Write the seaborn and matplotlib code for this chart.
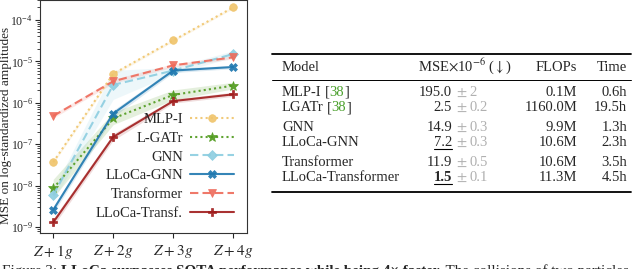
import numpy as np
import pandas as pd
import seaborn as sns
import matplotlib.pyplot as plt

# chart data (MSE per multiplicity)
processes = ["$Z+1g$", "$Z+2g$", "$Z+3g$", "$Z+4g$"]
models = ["MLP-I", "L-GATr", "GNN", "LLoCa-GNN", "Transformer", "LLoCa-Transf."]
mse_mlp = [3.7e-8, 5.0e-6, 3.2e-5, 2.0e-4]
mse_lgatr = [8.6e-9, 4.2e-7, 1.55e-6, 2.6e-6]
mse_gnn = [5.9e-9, 2.7e-6, 6.0e-6, 1.5e-5]
mse_llgnn = [2.6e-9, 5.5e-7, 6.0e-6, 7.3e-6]
mse_trf = [4.8e-7, 3.3e-6, 8.0e-6, 1.25e-5]
mse_lltrf = [1.3e-9, 1.5e-7, 1.1e-6, 1.6e-6]
# half width of the shaded band, in decades
band_mlp = [0.04, 0.04, 0.03, 0.03]
band_lgatr = [0.22, 0.15, 0.12, 0.08]
band_gnn = [0.12, 0.35, 0.08, 0.08]
band_llgnn = [0.08, 0.08, 0.05, 0.04]
band_trf = [0.05, 0.05, 0.04, 0.04]
band_lltrf = [0.09, 0.08, 0.05, 0.05]

# table data
tab_models = ["MLP-I", "LGATr", "GNN", "LLoCa-GNN", "Transformer", "LLoCa-Transformer"]
tab_cite = [True, True, False, False, False, False]
tab_mse = ["195.0", "2.5", "14.9", "7.2", "11.9", "1.5"]
tab_err = ["2", "0.2", "0.3", "0.3", "0.5", "0.1"]
tab_flops = ["0.1M", "1160.0M", "9.9M", "10.6M", "10.6M", "11.3M"]
tab_time = ["0.6h", "19.5h", "1.3h", "2.3h", "3.5h", "4.5h"]

COLORS = ["#f0c46a", "#4f9a1c", "#8ccde0", "#1f78b0", "#ee6a5a", "#a01c1c"]
STYLES = [(0, (1, 1.5)), (0, (1, 1.5)), (0, (4, 2)), "-", (0, (4, 2)), "-"]
MARKERS = ["o", "*", "D", "X", "v", "P"]

sns.set_style("ticks")
plt.rcParams["font.family"] = ["Liberation Serif", "DejaVu Serif"]
plt.rcParams["mathtext.fontset"] = "stix"
plt.rcParams["xtick.direction"] = "out"
plt.rcParams["ytick.direction"] = "out"

fig = plt.figure(figsize=(6.4, 2.69), dpi=100)
ax = fig.add_axes([0.0625, 0.134, 0.3235, 0.866])

series = [mse_mlp, mse_lgatr, mse_gnn, mse_llgnn, mse_trf, mse_lltrf]
bands = [band_mlp, band_lgatr, band_gnn, band_llgnn, band_trf, band_lltrf]
x = np.arange(len(processes))
for i, (name, vals, w) in enumerate(zip(models, series, bands)):
    df = pd.DataFrame({"x": x, "mse": vals})
    lo = np.array(vals) / 10 ** np.array(w)
    hi = np.array(vals) * 10 ** np.array(w)
    ax.fill_between(x, lo, hi, color=COLORS[i], alpha=0.15, linewidth=0)
    sns.lineplot(data=df, x="x", y="mse", ax=ax, color=COLORS[i], linestyle=STYLES[i],
                 marker=MARKERS[i], markersize=5.5 if MARKERS[i] != "*" else 7,
                 markeredgewidth=0.5, markeredgecolor=COLORS[i], alpha=0.9,
                 linewidth=1.5, label=name)

ax.set_yscale("log")
ax.set_ylim(10 ** -9.14, 10 ** -3.52)
ax.set_xlim(-0.22, 3.23)
ax.set_xticks(x)
ax.set_xticklabels(processes, fontsize=11)
ax.tick_params(axis="y", which="major", labelsize=8.5, pad=1.5, length=3.5)
ax.tick_params(axis="y", which="minor", length=2)
ax.set_xlabel("")
ax.set_ylabel("MSE on log-standardized amplitudes", fontsize=9.5)
ax.yaxis.set_label_coords(-0.135, 0.46)
for s in ax.spines.values():
    s.set_color("#333333")
ax.legend(loc="lower right", frameon=False, markerfirst=False, fontsize=10.5,
          handlelength=3.0, labelspacing=0.38, borderaxespad=0.5, handletextpad=0.5)

# table on the right
fig.canvas.draw()
renderer = fig.canvas.get_renderer()
FS = 10.5


def px(xp, yp):
    return xp / 640, 1 - yp / 269


def put(xp, yp, s, ha="left", **kw):
    t = fig.text(*px(xp, yp), s, ha=ha, va="baseline", fontsize=kw.pop("fontsize", FS), **kw)
    return t, t.get_window_extent(renderer)


def rule(yp, lw):
    fig.add_artist(plt.Line2D([272 / 640, 631 / 640], [1 - yp / 269] * 2, color="black", lw=lw))


rule(54, 1.3)
rule(80, 0.7)
rule(192, 1.3)
put(282, 71, "Model")
put(418, 71, r"MSE$\times$10$^{-6}$ ($\downarrow$)")
put(577, 71, "FLOPs", ha="right")
put(627, 71, "Time", ha="right")

row_y = [96, 111, 131, 146, 166, 181]
for i in range(len(tab_models)):
    y = row_y[i]
    t, bb = put(282, y, tab_models[i])
    if tab_cite[i]:
        t2, bb2 = put(bb.x1 + 3, y, "[")
        t3, bb3 = put(bb2.x1, y, "38", color="#4aa02c")
        put(bb3.x1, y, "]")
    bold = i == 5
    t, bb = put(452, y, tab_mse[i], ha="right", fontweight="bold" if bold else "normal")
    if i in (3, 5):
        yb = 1 - (y + 3) / 269
        fig.add_artist(plt.Line2D([bb.x0 / 640, bb.x1 / 640], [yb, yb], color="black", lw=0.8))
    put(456, y, r"$\pm$", color="#b0b0b0")
    put(469, y, tab_err[i], color="#b0b0b0")
    put(577, y, tab_flops[i], ha="right")
    put(627, y, tab_time[i], ha="right")

# caption (cut at the bottom edge)
xp = 2
for s, w in [("Figure 3: ", "normal"),
             ("LLoCa surpasses SOTA performance while being 4\u00d7 faster.", "bold"),
             (" The collisions of two particles", "normal")]:
    t, bb = put(xp, 275, s, fontweight=w, fontsize=10.9)
    xp = bb.x1

fig.savefig("out.png", dpi=100)
